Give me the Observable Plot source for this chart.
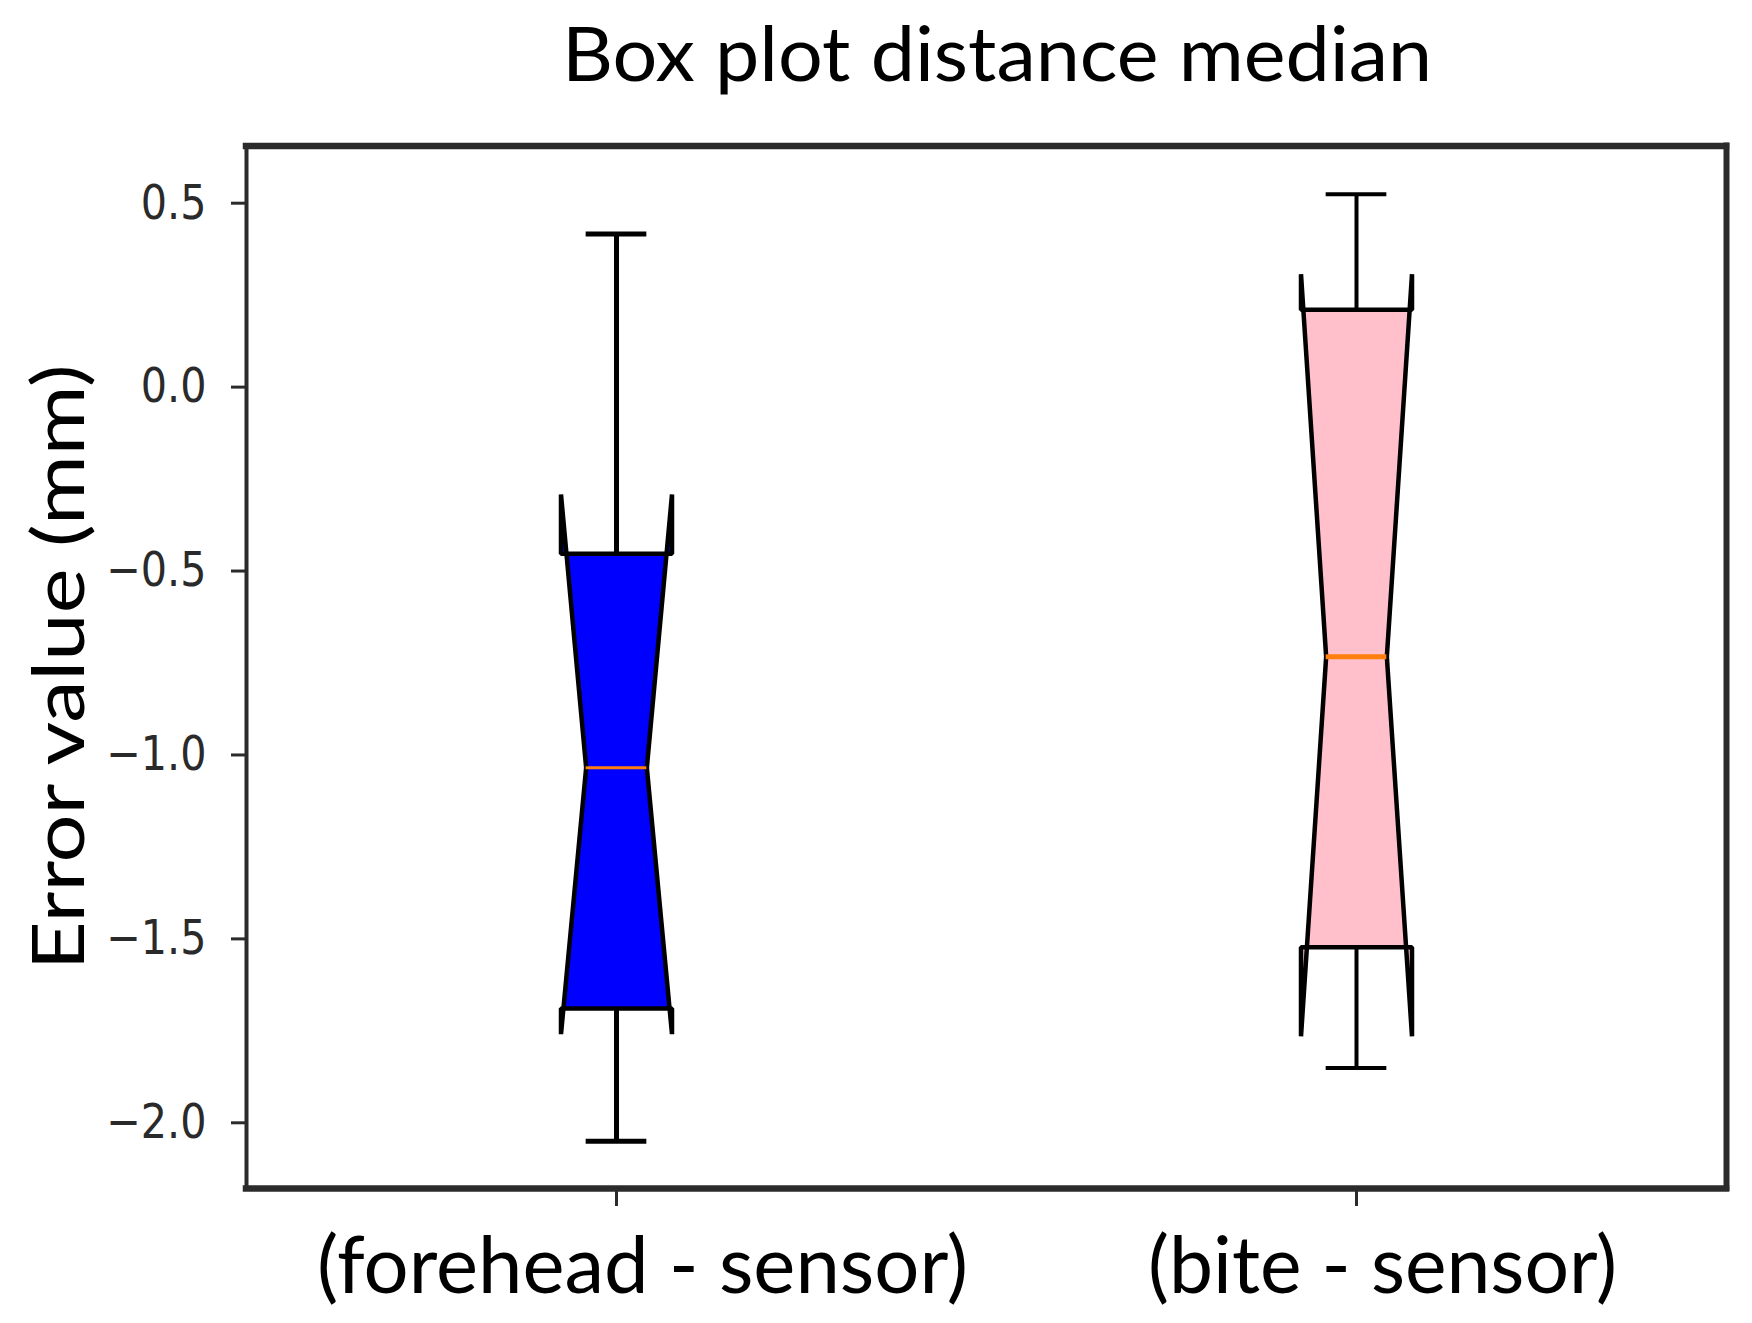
<!DOCTYPE html>
<html><head><meta charset="utf-8">
<script src="https://cdn.jsdelivr.net/npm/d3@7"></script>
<script src="https://cdn.jsdelivr.net/npm/@observablehq/plot@0.6"></script>
<style>
html,body{margin:0;padding:0;background:#fff;}
svg{display:block;}
</style></head><body>
<svg id="title" width="1752" height="100"></svg>
<div id="chart"></div>
<script>
// ---- data ----
const categories = ["(forehead - sensor)", "(bite - sensor)"];
const positions = [1, 2];
const whiskerLow = [-2.05, -1.851];
const q1 = [-1.689, -1.523];
const notchLow = [-1.759, -1.765];
const median = [-1.035, -0.733];
const q3 = [-0.453, 0.210];
const notchHigh = [-0.292, 0.307];
const whiskerHigh = [0.416, 0.524];
const boxColors = ["#0000ff", "#ffc0cb"];
const yTicks = [0.5, 0.0, -0.5, -1.0, -1.5, -2.0];
const yTickLabels = ["0.5", "0.0", "−0.5", "−1.0", "−1.5", "−2.0"];
const titleText = "Box plot distance median";
const yLabel = "Error value (mm)";

// ---- styles ----
const xDomain = [0.5, 2.5];
const yDomain = [-2.1786, 0.6555];
const boxWidth = 0.15;
const innerHalf = 0.041;
const whiskerWidths = [5, 4];
const medianWidths = [3, 5];
const frameColor = "#2b2b2b";
const xLabelWidths = [651, 469];
const yLabelLength = 606;

const rows = categories.map((c, i) => ({
  cat: c, pos: positions[i], lo: whiskerLow[i], q1: q1[i], nlo: notchLow[i],
  med: median[i], q3: q3[i], nhi: notchHigh[i], hi: whiskerHigh[i],
  color: boxColors[i], ww: whiskerWidths[i], mw: medianWidths[i]
}));

function polygon(r) {
  const L = r.pos - boxWidth / 2, R = r.pos + boxWidth / 2;
  const cl = r.pos - innerHalf, cr = r.pos + innerHalf;
  return [[L, r.q1], [L, r.nlo], [cl, r.med], [L, r.nhi], [L, r.q3],
          [R, r.q3], [R, r.nhi], [cr, r.med], [R, r.nlo], [R, r.q1]]
    .map(([x, y]) => ({px: x, py: y}));
}

const marks = [];
rows.forEach(r => {
  marks.push(Plot.line(polygon(r), {x: "px", y: "py", curve: "linear-closed",
    fill: r.color, stroke: "#000", strokeWidth: 4.5, strokeLinejoin: "bevel"}));
});
// whiskers
marks.push(Plot.ruleX(rows, {x: "pos", y1: "q3", y2: "hi", stroke: "#000", strokeWidth: "ww"}));
marks.push(Plot.ruleX(rows, {x: "pos", y1: "q1", y2: "lo", stroke: "#000", strokeWidth: "ww"}));
// caps
marks.push(Plot.ruleY(rows, {y: "hi", x1: d => d.pos - innerHalf, x2: d => d.pos + innerHalf, stroke: "#000", strokeWidth: "ww"}));
marks.push(Plot.ruleY(rows, {y: "lo", x1: d => d.pos - innerHalf, x2: d => d.pos + innerHalf, stroke: "#000", strokeWidth: "ww"}));
// medians
marks.push(Plot.ruleY(rows, {y: "med", x1: d => d.pos - innerHalf, x2: d => d.pos + innerHalf, stroke: "#ff7f0e", strokeWidth: "mw"}));
// frame
marks.push(Plot.ruleX([xDomain[0]], {x: d => d, stroke: frameColor, strokeWidth: 4, strokeLinecap: "square"}));
marks.push(Plot.ruleX([xDomain[1]], {x: d => d, stroke: frameColor, strokeWidth: 6, strokeLinecap: "square"}));
marks.push(Plot.ruleY([yDomain[1]], {y: d => d, stroke: frameColor, strokeWidth: 6.5, strokeLinecap: "square"}));
marks.push(Plot.ruleY([yDomain[0]], {y: d => d, stroke: frameColor, strokeWidth: 6.5, strokeLinecap: "square"}));
// axes
marks.push(Plot.axisY({ticks: yTicks, tickFormat: d => yTickLabels[yTicks.indexOf(d)], label: null,
  tickSize: 15, tickPadding: 25, stroke: frameColor, fill: "#2a2a2a", strokeWidth: 3,
  fontSize: 48, fontFamily: "DejaVu Sans"}));
marks.push(Plot.axisX({ticks: positions, label: null, tickSize: 18, stroke: frameColor, strokeWidth: 3, fill: "none"}));
marks.push(Plot.text(rows, {x: "pos", text: "cat", frameAnchor: "bottom", lineAnchor: "bottom",
  dy: 104, dx: 26, fontSize: 80, fontFamily: "Lato", fill: "#000"}));
marks.push(Plot.text([yLabel], {text: d => d, frameAnchor: "left", textAnchor: "middle", rotate: -90, lineAnchor: "bottom",
  dx: -163, fontSize: 72, fontFamily: "Lato", fill: "#000"}));

const chart = Plot.plot({
  width: 1752, height: 1223,
  marginTop: 45.5, marginBottom: 135, marginLeft: 246, marginRight: 26,
  x: {domain: xDomain, label: null},
  y: {domain: yDomain, label: null},
  style: {background: "#fff", overflow: "visible"},
  marks
});
document.getElementById("chart").appendChild(chart);

// title
const tsvg = d3.select("#title");
tsvg.append("text").attr("x", 997).attr("y", 81).attr("text-anchor", "middle")
  .attr("font-family", "Lato").attr("font-size", 76).attr("fill", "#000")
  .attr("textLength", 870).attr("lengthAdjust", "spacingAndGlyphs").text(titleText);

// squeeze / stretch text to match the reference proportions
chart.querySelectorAll("text").forEach(t => {
  const s = t.textContent;
  if (yTickLabels.includes(s)) {
    const n = t.getComputedTextLength();
    if (n > 0) t.setAttribute("textLength", n * 0.86);
  } else if (categories.includes(s)) {
    t.setAttribute("textLength", xLabelWidths[categories.indexOf(s)]);
  } else if (s === yLabel) {
    t.setAttribute("textLength", yLabelLength);
  } else return;
  t.setAttribute("lengthAdjust", "spacingAndGlyphs");
});
</script>
</body></html>
